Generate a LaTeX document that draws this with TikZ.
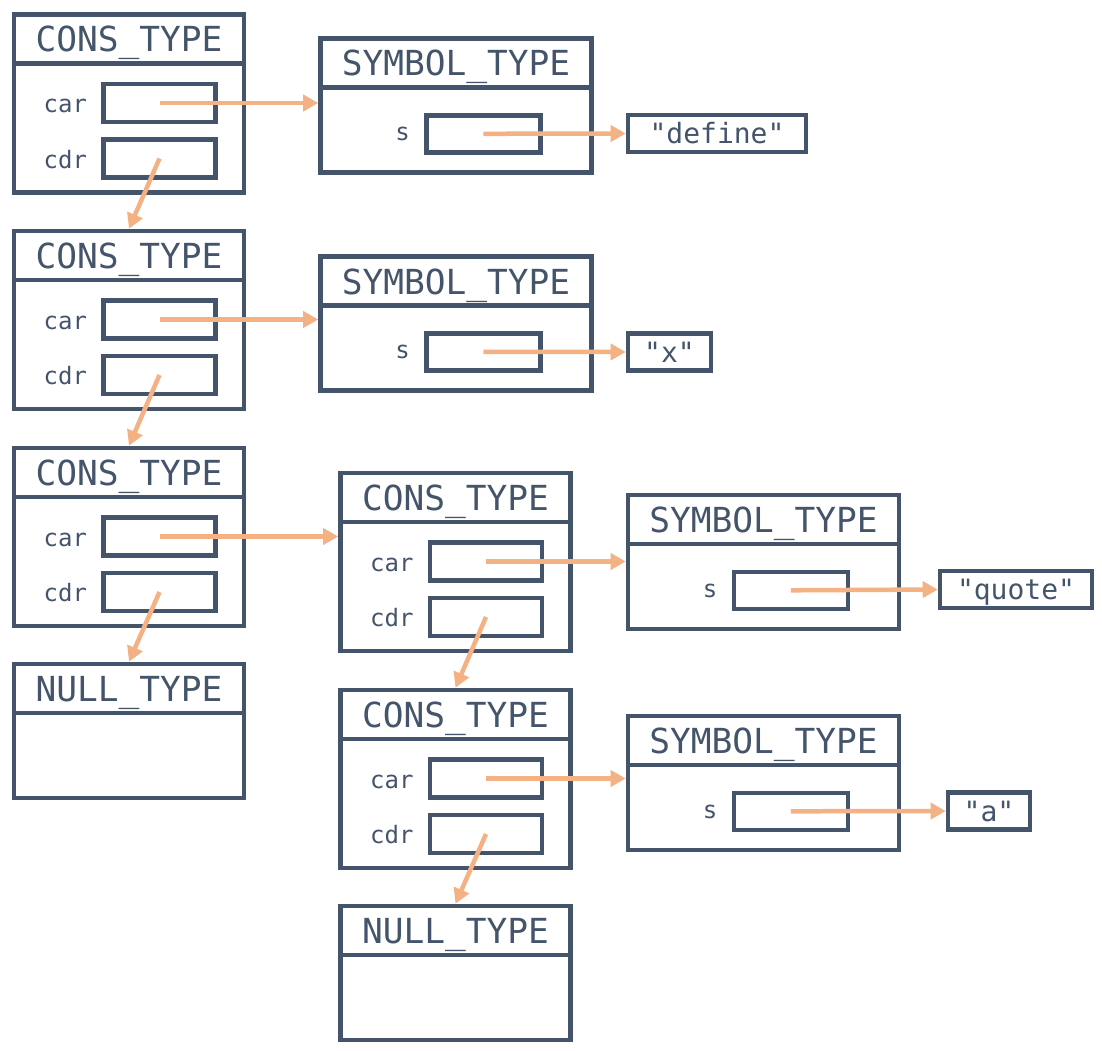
\documentclass[tikz,border=0pt]{standalone}
\usepackage{fontspec}
\setmonofont{DejaVu Sans Mono}
\usetikzlibrary{arrows.meta}
\definecolor{dk}{HTML}{44546A}
\definecolor{org}{HTML}{F4B183}
\tikzset{
 box/.style={draw=dk, line width=4.6pt, inner sep=0pt, rectangle},
 hdr/.style={draw=dk, line width=4.6pt, inner sep=0pt, anchor=north, minimum height=49pt,
   font=\ttfamily\fontsize{34.5}{40}\selectfont, text=dk, text height=30pt, text depth=4pt},
 lbl/.style={font=\ttfamily\fontsize{24}{28}\selectfont, text=dk, anchor=base east, inner sep=0pt},
 val/.style={font=\ttfamily\fontsize{28}{32}\selectfont, text=dk, draw=dk, line width=4.6pt,
   inner sep=0pt, minimum height=37pt, text height=25pt, text depth=5pt},
 ptr/.style={draw=org, line width=4.5pt, -{Triangle[length=15pt,width=16pt]}},
}
\newcommand{\mkcons}[3]{%
 \node[box, minimum width=230pt, minimum height=178pt] (#1) at (#2,#3) {};
 \node[hdr, minimum width=230pt] (#1h) at (#1.north) {CONS\_TYPE};
 \node[box, minimum width=112pt, minimum height=38pt] (#1car) at ([shift={(30.5,-0.5)}]#1.center) {};
 \node[box, minimum width=112pt, minimum height=38pt] (#1cdr) at ([shift={(30.5,55)}]#1.center) {};
 \node[lbl] (#1carl) at ([xshift=-14pt,yshift=-9.5pt]#1car.west) {car};
 \node[lbl] (#1cdrl) at ([xshift=-14pt,yshift=-9.5pt]#1cdr.west) {cdr};
}
\newcommand{\mksym}[3]{%
 \node[box, minimum width=271pt, minimum height=134pt] (#1) at (#2,#3) {};
 \node[hdr, minimum width=271pt] (#1h) at (#1.north) {SYMBOL\_TYPE};
 \node[box, minimum width=114pt, minimum height=37pt] (#1s) at ([shift={(27.3,28.3)}]#1.center) {};
 \node[lbl] (#1sl) at ([xshift=-14pt,yshift=-7pt]#1s.west) {s};
}
\newcommand{\mknull}[3]{%
 \node[box, minimum width=230pt, minimum height=134pt] (#1) at (#2,#3) {};
 \node[hdr, minimum width=230pt] (#1h) at (#1.north) {NULL\_TYPE};
}
\begin{document}
\begin{tikzpicture}[x=1pt,y=-1pt]
\useasboundingbox (0,0) rectangle (1102,1051);
\mkcons{c1}{129}{103.5}
\mksym{s1}{456}{105.5}
\node[val, minimum width=178pt] (v1) at (717,133.5) {"define"};
\mkcons{c2}{129}{320}
\mksym{s2}{456}{323.5}
\node[val, minimum width=83pt] (v2) at (669.5,352) {"x"};
\mkcons{c3}{129}{537}
\mknull{n1}{129}{731}
\mkcons{c4}{455.5}{562}
\mksym{s3}{763.5}{562}
\node[val, minimum width=152pt] (v3) at (1016,589.5) {"quote"};
\mkcons{c5}{455.5}{779}
\mksym{s4}{763.5}{783}
\node[val, minimum width=82pt] (v4) at (989,811) {"a"};
\mknull{n2}{455.5}{973}
% pointers
\draw[ptr] (c1car.center) -- (c1car.center -| s1.west);
\draw[ptr] (c1cdr.center) -- (c2.north);
\draw[ptr] (s1s.center) -- (v1.west);
\draw[ptr] (c2car.center) -- (c2car.center -| s2.west);
\draw[ptr] (c2cdr.center) -- (c3.north);
\draw[ptr] (s2s.center) -- (v2.west);
\draw[ptr] (c3car.center) -- (c3car.center -| c4.west);
\draw[ptr] (c3cdr.center) -- (n1.north);
\draw[ptr] (c4car.center) -- (c4car.center -| s3.west);
\draw[ptr] (c4cdr.center) -- (c5.north);
\draw[ptr] (s3s.center) -- (v3.west);
\draw[ptr] (c5car.center) -- (c5car.center -| s4.west);
\draw[ptr] (c5cdr.center) -- (n2.north);
\draw[ptr] (s4s.center) -- (v4.west);
\end{tikzpicture}
\end{document}
